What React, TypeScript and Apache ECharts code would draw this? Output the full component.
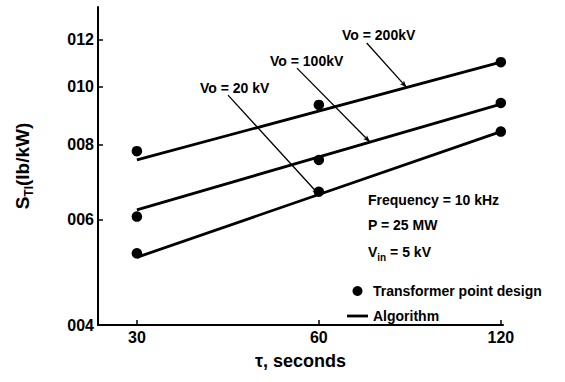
import React, { useEffect, useRef } from "react";
import * as echarts from "echarts";

// ---- data ----
const xTicks = [30, 60, 120];
const yTicks = [0.004, 0.006, 0.008, 0.01, 0.012];

const designTau = [30, 60, 120];
const design200 = [0.00781, 0.00933, 0.0110];
const design100 = [0.00607, 0.00755, 0.0094];
const design20 = [0.00527, 0.00668, 0.00842];

const algoTau = [30, 120];
const algo200 = [0.00755, 0.0110];
const algo100 = [0.00623, 0.00936];
const algo20 = [0.00519, 0.00842];

// leader lines: [tauStart, valueStart, tauEnd, valueEnd]
const leader200 = [72.0, 0.01184, 83.8, 0.00998];
const leader100 = [55.2, 0.01075, 72.9, 0.00809];
const leader20 = [42.45, 0.00969, 60, 0.00661];

const labelsVo = ["Vo = 200kV", "Vo = 100kV", "Vo = 20 kV"];
const notes = ["Frequency = 10 kHz", "P = 25 MW"];

const FONT = "'Liberation Sans', Arial, Helvetica, sans-serif";

function pairs(xs: number[], ys: number[]) {
  return xs.map((x, i) => [x, ys[i]]);
}

function leaderMark(l: number[]) {
  return {
    silent: true,
    symbol: ["none", "arrow"],
    symbolSize: [4, 7],
    lineStyle: { color: "#000", width: 1.3, type: "solid", opacity: 1 },
    label: { show: false },
    emphasis: { disabled: true },
    data: [[{ coord: [l[0], l[1]] }, { coord: [l[2], l[3]] }]],
  };
}

export default function App() {
  const ref = useRef<HTMLDivElement>(null);
  useEffect(() => {
    if (!ref.current) return;
    const chart = echarts.init(ref.current, null, { renderer: "svg" });
    const lineStyle = { color: "#000", width: 2.8 };
    const algoSeries = [algo200, algo100, algo20].map((vals, i) => ({
      type: "line",
      name: "Algorithm",
      data: pairs(algoTau, vals),
      symbol: "none",
      showSymbol: false,
      lineStyle,
      itemStyle: { color: "#000" },
      silent: true,
      markLine: leaderMark([leader200, leader100, leader20][i]),
    }));
    const designData = [
      ...pairs(designTau, design200),
      ...pairs(designTau, design100),
      ...pairs(designTau, design20),
    ];
    chart.setOption({
      animation: false,
      backgroundColor: "#fff",
      textStyle: { fontFamily: FONT },
      grid: { left: 98, right: 62, top: 7, bottom: 57, containLabel: false },
      xAxis: {
        type: "log",
        logBase: 2,
        min: 25.87,
        max: 121,
        name: "τ, seconds",
        nameLocation: "middle",
        nameGap: 27,
        nameTextStyle: { fontSize: 18, fontWeight: "bold", color: "#000", fontFamily: FONT },
        axisLine: { show: true, lineStyle: { color: "#000", width: 2 } },
        axisTick: { show: true, inside: true, length: 5, customValues: xTicks, lineStyle: { color: "#000", width: 1.5 } },
        minorTick: { show: false },
        splitLine: { show: false },
        axisLabel: {
          customValues: xTicks,
          margin: 4,
          fontSize: 16,
          fontWeight: "bold",
          color: "#000",
          fontFamily: FONT,
          formatter: (v: number) => String(Math.round(v)),
        },
      },
      yAxis: {
        type: "log",
        logBase: 10,
        min: 0.004,
        max: 0.0136,
        name: "S{sub|TI}(lb/kW)",
        nameLocation: "middle",
        nameRotate: 90,
        nameGap: 63,
        nameTextStyle: {
          fontSize: 19,
          fontWeight: "bold",
          color: "#000",
          fontFamily: FONT,
          lineHeight: 26,
          rich: {
            sub: { fontSize: 12, fontWeight: "bold", color: "#000", fontFamily: FONT, verticalAlign: "bottom", lineHeight: 12 },
          },
        },
        axisLine: { show: true, lineStyle: { color: "#000", width: 2 } },
        axisTick: { show: true, inside: true, length: 5, customValues: yTicks, lineStyle: { color: "#000", width: 1.5 } },
        minorTick: { show: false },
        splitLine: { show: false },
        axisLabel: {
          customValues: yTicks,
          margin: 4,
          fontSize: 16,
          fontWeight: "bold",
          color: "#000",
          fontFamily: FONT,
          formatter: (v: number) => String(Math.round(v * 1000)).padStart(3, "0"),
        },
      },
      legend: {
        orient: "vertical",
        left: 342,
        top: 279,
        itemWidth: 21,
        itemHeight: 10,
        itemGap: 11,
        selectedMode: false,
        textStyle: { fontSize: 14, fontWeight: "bold", color: "#000", fontFamily: FONT },
        data: [
          { name: "Transformer point design", icon: "circle", itemStyle: { color: "#000", opacity: 1 } },
          { name: "Algorithm", icon: "path://M0,0 H21 V2.8 H0 Z", itemStyle: { color: "#000", opacity: 1 } },
        ],
      },
      graphic: [
        { type: "text", x: 342, y: 35, style: { text: labelsVo[0], fontSize: 14, fontWeight: "bold", fill: "#000", fontFamily: FONT, verticalAlign: "middle" } },
        { type: "text", x: 270, y: 61, style: { text: labelsVo[1], fontSize: 14, fontWeight: "bold", fill: "#000", fontFamily: FONT, verticalAlign: "middle" } },
        { type: "text", x: 200, y: 88, style: { text: labelsVo[2], fontSize: 14, fontWeight: "bold", fill: "#000", fontFamily: FONT, verticalAlign: "middle" } },
        { type: "text", x: 368, y: 200, style: { text: notes[0], fontSize: 14, fontWeight: "bold", fill: "#000", fontFamily: FONT, verticalAlign: "middle" } },
        { type: "text", x: 368, y: 225, style: { text: notes[1], fontSize: 14, fontWeight: "bold", fill: "#000", fontFamily: FONT, verticalAlign: "middle" } },
        {
          type: "text",
          x: 368,
          y: 252,
          style: {
            text: "V{sub|in} = 5 kV",
            fontSize: 14,
            fontWeight: "bold",
            fill: "#000",
            fontFamily: FONT,
            verticalAlign: "middle",
            lineHeight: 20,
            rich: { sub: { fontSize: 10, fontWeight: "bold", fill: "#000", fontFamily: FONT, verticalAlign: "bottom", lineHeight: 10 } },
          },
        },
      ],
      series: [
        {
          type: "scatter",
          name: "Transformer point design",
          data: designData,
          symbol: "circle",
          symbolSize: 10.5,
          itemStyle: { color: "#000", opacity: 1 },
          silent: true,
          z: 3,
        },
        ...algoSeries,
      ],
    });
    return () => chart.dispose();
  }, []);
  return <div ref={ref} style={{ position: "fixed", left: 0, top: 0, width: 565, height: 382, background: "#fff" }} />;
}
